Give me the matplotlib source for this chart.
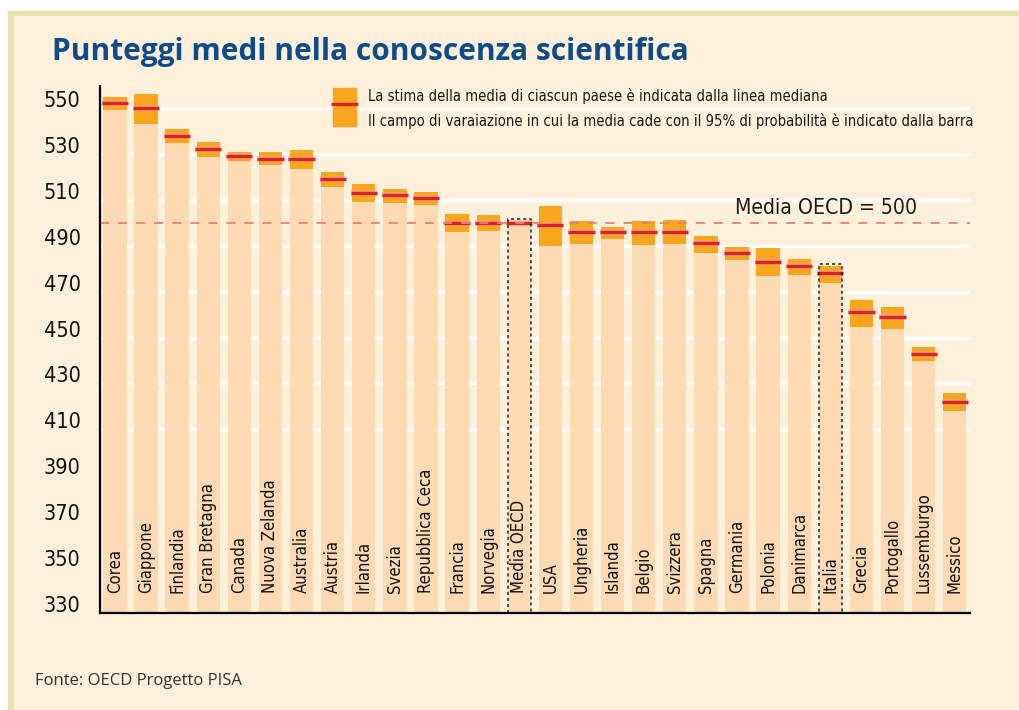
import matplotlib
matplotlib.use('Agg')
import matplotlib.pyplot as plt
from matplotlib import font_manager
from matplotlib.patches import Rectangle
from matplotlib.transforms import ScaledTranslation

paesi = ['Corea', 'Giappone', 'Finlandia', 'Gran Bretagna', 'Canada', 'Nuova Zelanda',
         'Australia', 'Austria', 'Irlanda', 'Svezia', 'Repubblica Ceca', 'Francia',
         'Norvegia', 'Media OECD', 'USA', 'Ungheria', 'Islanda', 'Belgio', 'Svizzera',
         'Spagna', 'Germania', 'Polonia', 'Danimarca', 'Italia', 'Grecia', 'Portogallo',
         'Lussemburgo', 'Messico']
media = [552, 550, 538, 532, 529, 528, 528, 519, 513, 512, 511, 500, 500, 500, 499, 496,
         496, 496, 496, 491, 487, 483, 481, 478, 461, 459, 443, 422]
minimo = [549.1, 543, 534.8, 528.7, 527, 525.2, 523.5, 515.7, 509.1, 508.7, 507.8, 496.1,
          496.5, 501, 490, 490.9, 493, 490.4, 490.9, 487, 483.9, 477, 477.4, 473.9, 454.8,
          453.9, 440, 417.8]
massimo = [554.8, 556, 540.9, 535.2, 530.9, 530.9, 531.7, 522.2, 517, 514.8, 513.5, 503.9,
           503.5, 501, 507.4, 500.9, 498.3, 500.9, 501.3, 494.3, 489.6, 489.1, 484.3, 481.3,
           466.5, 463.5, 445.7, 425.7]
evidenziati = ['Media OECD', 'Italia']
yticks = [330, 350, 370, 390, 410, 430, 450, 470, 490, 510, 530, 550]
griglia = [410, 430, 450, 470, 490, 510, 530, 550]
media_oecd = 500

crema = '#FEF0DA'
pesca = '#FDDAB4'
arancio = '#F9A51E'
rosso = '#DA2328'

# carattere stretto (DejaVu Sans Condensed)
narrow = font_manager.FontProperties(family='DejaVu Sans', stretch='condensed')

fig = plt.figure(figsize=(10.2, 7.1), dpi=100, facecolor='white')
# cornice
fig.patches.append(Rectangle((8 / 1020, 0), 1, 1 - 11 / 710, transform=fig.transFigure,
                             color='#E8E1AE', zorder=-10))
fig.patches.append(Rectangle((14 / 1020, 0), 1, 1 - 16 / 710, transform=fig.transFigure,
                             color=crema, zorder=-9))

ax = fig.add_axes([100 / 1020, 1 - 613 / 710, 870 / 1020, 527 / 710])
ax.set_facecolor('none')
x = list(range(len(paesi)))

for g in griglia:
    ax.axhline(g, color='white', lw=2.4, zorder=0)

basso = [m - 330 for m in minimo]
ax.bar(x, basso, bottom=330, width=0.75, color=pesca, zorder=1)
ax.bar(x, [a - b for a, b in zip(massimo, minimo)], bottom=minimo, width=0.75,
       color=arancio, zorder=2)
ax.hlines(media, [i - 0.42 for i in x], [i + 0.42 for i in x], color='#F6A0A0', lw=4.5,
          alpha=0.5, zorder=3)
ax.hlines(media, [i - 0.42 for i in x], [i + 0.42 for i in x], color=rosso, lw=2.4, zorder=4)

for nome in evidenziati:
    i = paesi.index(nome)
    ax.add_patch(Rectangle((i - 0.375, 330), 0.75, massimo[i] + 0.6 - 330, fill=False,
                           ec='#222222', lw=1.1, ls=(0, (2, 2)), zorder=5))

ax.axhline(media_oecd, color='#E8826E', lw=1.3, ls=(0, (5, 5)), zorder=6)
ax.text(19.95, 504, 'Media OECD = 500', fontproperties=narrow, fontsize=15.2,
        color='#1a1a1a', va='baseline', ha='left')

for i, nome in enumerate(paesi):
    ax.text(i, 338.7, nome, rotation=90, ha='center', va='bottom', fontproperties=narrow,
            fontsize=12, color='#111111', zorder=7)

# legenda
ax.add_patch(Rectangle((7.38 - 0.37, 542.2), 0.74, 16.5, color=arancio, zorder=5))
ax.plot([7.38 - 0.43, 7.38 + 0.43], [551.7, 551.7], color=rosso, lw=2.4, zorder=6,
        solid_capstyle='butt')
ax.text(8.13, 555.2, 'La stima della media di ciascun paese è indicata dalla linea mediana',
        fontproperties=narrow, fontsize=10.6, va='center', ha='left', color='#1a1a1a')
ax.text(8.13, 544.3, 'Il campo di varaiazione in cui la media cade con il 95% di '
        'probabilità è indicato dalla barra', fontproperties=narrow, fontsize=10.6,
        va='center', ha='left', color='#1a1a1a')

ax.set_xlim(-0.48, 27.49)
ax.set_ylim(330, 559.6)
ax.set_xticks([])
ax.set_yticks(yticks)
ax.set_yticklabels([str(v) for v in yticks], fontproperties=narrow, fontsize=15.5,
                   color='#111111')
ax.tick_params(axis='y', length=0, pad=14)
for lab in ax.get_yticklabels():
    lab.set_transform(lab.get_transform() + ScaledTranslation(0, 9 / 100, fig.dpi_scale_trans))
for s in ['top', 'right']:
    ax.spines[s].set_visible(False)
for s in ['left', 'bottom']:
    ax.spines[s].set_linewidth(1.6)
    ax.spines[s].set_zorder(8)

fig.text(52 / 1020, 1 - 52 / 710, 'Punteggi medi nella conoscenza scientifica',
         fontsize=21.5, fontweight='bold', family='Open Sans', color='#0D4B8C',
         va='center', ha='left')
fig.text(35 / 1020, 1 - 685 / 710, 'Fonte: OECD Progetto PISA', fontsize=12,
         family='Open Sans', color='#333333', va='baseline', ha='left')

fig.savefig('out.png', dpi=100, facecolor=fig.get_facecolor())
